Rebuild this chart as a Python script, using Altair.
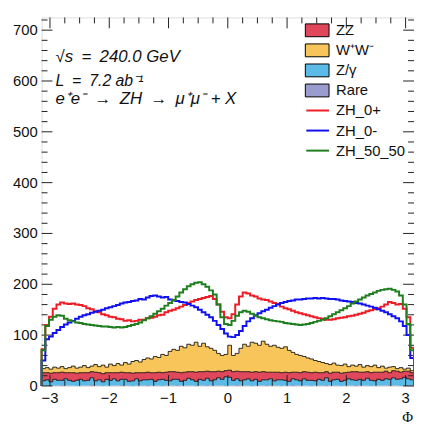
import numpy as np
import pandas as pd
import altair as alt

PI = float(np.pi)
NB = 100
edges = np.linspace(-PI, PI, NB + 1)

# ---------------- data (events per bin, 100 bins in [-pi, pi]) ----------------
zh_0p = [72, 120, 136, 152, 160, 164, 162, 161, 162, 160,
         159, 157, 153, 151, 147, 145, 141, 139, 136, 135,
         132, 131, 128, 129, 127, 128, 130, 130, 133, 134,
         136, 139, 140, 145, 148, 150, 153, 156, 159, 163,
         166, 169, 171, 173, 175, 177, 171, 160, 146, 135,
         133, 141, 160, 176, 184, 182, 178, 176, 172, 170,
         169, 166, 163, 161, 156, 153, 151, 148, 145, 143,
         141, 139, 137, 135, 133, 132, 130, 130, 131, 133,
         134, 135, 137, 138, 140, 142, 144, 147, 149, 151,
         153, 156, 160, 165, 163, 160, 161, 152, 135, 75]

zh_0m = [50, 92, 97, 104, 110, 116, 121, 125, 128, 132,
         136, 139, 141, 144, 146, 148, 150, 153, 155, 157,
         159, 162, 164, 165, 167, 168, 171, 170, 174, 177,
         178, 176, 174, 175, 170, 168, 167, 165, 164, 161,
         158, 155, 150, 145, 140, 135, 128, 120, 112, 103,
         97, 96, 100, 108, 118, 127, 133, 139, 143, 147,
         150, 154, 157, 160, 163, 165, 167, 168, 170, 170,
         171, 172, 172, 173, 172, 173, 172, 171, 171, 170,
         168, 167, 166, 165, 163, 162, 160, 158, 156, 154,
         151, 148, 145, 141, 137, 133, 127, 118, 100, 55]

zh_5050 = [70, 118, 130, 136, 139, 138, 132, 129, 127, 125,
           124, 122, 121, 120, 119, 118, 117, 117, 116, 115,
           116, 115, 116, 118, 120, 122, 125, 129, 133, 137,
           142, 147, 152, 158, 163, 169, 176, 184, 190, 196,
           200, 203, 204, 200, 195, 188, 180, 160, 135, 122,
           120, 128, 138, 145, 148, 146, 142, 138, 135, 133,
           131, 129, 128, 127, 126, 124, 123, 122, 121, 120,
           121, 122, 124, 126, 128, 130, 133, 137, 141, 145,
           149, 153, 157, 162, 166, 170, 174, 178, 181, 184,
           187, 189, 190, 191, 189, 186, 178, 160, 122, 70]

rare = [1, 1, 0, 1, 1, 2, 1, 1, 1, 0, 1, 1, 1, 2, 1, 1, 0, 1, 1, 1,
        1, 2, 1, 1, 0, 1, 1, 1, 2, 1, 1, 1, 0, 1, 1, 1, 2, 1, 1, 1,
        1, 0, 1, 1, 2, 1, 1, 1, 1, 0, 1, 1, 2, 1, 1, 1, 0, 1, 1, 1,
        2, 1, 1, 1, 0, 1, 1, 2, 1, 1, 1, 1, 0, 1, 1, 1, 2, 1, 1, 1,
        0, 1, 1, 1, 2, 1, 1, 1, 0, 1, 1, 1, 1, 2, 1, 1, 0, 1, 1, 1]

zgam = [9, 11, 8, 12, 10, 9, 13, 10, 8, 11, 12, 9, 10, 14, 9, 11, 8, 12, 10, 13,
        9, 11, 12, 8, 10, 13, 9, 11, 10, 12, 8, 11, 13, 10, 9, 12, 11, 8, 10, 14,
        11, 9, 12, 10, 13, 9, 11, 15, 12, 18, 16, 10, 12, 9, 11, 13, 10, 12, 8, 11,
        10, 13, 9, 11, 12, 10, 8, 12, 11, 9, 13, 10, 11, 9, 12, 10, 14, 8, 11, 12,
        9, 10, 13, 11, 9, 12, 10, 14, 11, 9, 12, 10, 13, 11, 15, 12, 14, 16, 13, 11]

zz = [16, 14, 17, 13, 15, 16, 12, 15, 17, 14, 13, 16, 15, 12, 17, 14, 16, 13, 15, 12,
      16, 14, 13, 17, 15, 12, 16, 14, 15, 13, 17, 15, 13, 16, 18, 15, 14, 17, 16, 13,
      16, 18, 15, 17, 14, 18, 16, 13, 15, 12, 14, 17, 15, 18, 16, 14, 17, 15, 18, 16,
      15, 13, 17, 15, 14, 16, 17, 13, 15, 16, 14, 16, 15, 17, 13, 15, 12, 16, 15, 14,
      16, 15, 13, 16, 17, 14, 16, 13, 15, 17, 14, 16, 15, 13, 14, 16, 13, 12, 15, 14]

ww = [8, 10, 8, 11, 9, 11, 8, 10, 13, 10, 11, 14, 10, 11, 15, 12, 17, 11, 17, 14,
      18, 14, 20, 17, 23, 24, 21, 26, 28, 27, 32, 29, 36, 33, 40, 44, 43, 52, 48, 54,
      52, 59, 50, 56, 48, 46, 42, 35, 32, 32, 49, 32, 35, 46, 54, 50, 59, 56, 53, 60,
      55, 51, 53, 49, 48, 50, 44, 39, 35, 34, 30, 28, 27, 23, 22, 20, 16, 17, 18, 14,
      15, 17, 11, 13, 11, 15, 10, 12, 12, 14, 9, 12, 6, 11, 8, 5, 9, 4, 6, 4]

bkg_names = ["ZZ", "W\u207aW\u207b", "Z/\u03b3", "Rare"]
bkg_colors = ["#e0475a", "#f8c55a", "#5cbbe6", "#9a9cd0"]
sig_names = ["ZH_0+", "ZH_0-", "ZH_50_50"]
sig_colors = ["#ee1c24", "#1010f0", "#1f7f1f"]

y_ticks_major = [0, 100, 200, 300, 400, 500, 600, 700]
y_labels = ["0", "100", "200", "300", "400", "500", "600", "700"]
x_ticks_major = [-3, -2, -1, 0, 1, 2, 3]
x_labels = ["\u22123", "\u22122", "\u22121", "0", "1", "2", "3"]
x_title = "\u03a6"

W, H = 377, 373
xs = alt.Scale(domain=[-PI, PI], nice=False, zero=False)
ys = alt.Scale(domain=[0, 725], nice=False, zero=False)
FONT = "Liberation Sans"


# ---------------- tables built from the arrays ----------------
def outline(vals, name):
    xv, yv = [edges[0]], [0.0]
    for i, v in enumerate(vals):
        xv += [edges[i], edges[i + 1]]
        yv += [v, v]
    xv.append(edges[-1]); yv.append(0.0)
    return pd.DataFrame({"x": xv, "y": yv, "o": range(len(xv)), "s": name})


def band(lo, hi, name):
    xv, lv, hv = [], [], []
    for i in range(NB):
        xv += [edges[i], edges[i + 1]]
        lv += [lo[i], lo[i]]
        hv += [hi[i], hi[i]]
    return pd.DataFrame({"x": xv, "lo": lv, "hi": hv, "s": name})


def px(field, ch):
    if ch == "x":
        return alt.X(field, scale=None, axis=None)
    return alt.Y(field, scale=None, axis=None)


def sx(field):
    return alt.X(field, scale=xs, axis=None)


def sy(field):
    return alt.Y(field, scale=ys, axis=None)


c0 = np.zeros(NB)
c1 = c0 + np.array(rare)
c2 = c1 + np.array(zgam)
c3 = c2 + np.array(zz)
c4 = c3 + np.array(ww)

bands = [(c3, c4, "WW", bkg_colors[1]), (c0, c1, "Rare", bkg_colors[3]),
         (c1, c2, "Z/\u03b3", bkg_colors[2]), (c2, c3, "ZZ", bkg_colors[0])]

layers = []

# stacked background fills
for lo, hi, name, col in bands:
    layers.append(alt.Chart(band(lo, hi, name)).mark_area(
        color=col, opacity=1, interpolate="linear").encode(
        x=sx("x:Q"), y=sy("hi:Q"), y2=alt.Y2("lo:Q")))

# black outlines of the stack layers
for cum, name in [(c2, "zg"), (c3, "zz"), (c4, "ww")]:
    layers.append(alt.Chart(outline(list(cum), name)).mark_line(
        color="black", strokeWidth=0.8).encode(
        x=sx("x:Q"), y=sy("y:Q"), order="o:Q"))

# inward ticks on all four sides
ymin = [v for v in range(0, 721, 20) if v % 100]
xmin = [v / 4 for v in range(-12, 13) if v % 4]
yt = pd.DataFrame({"t": y_ticks_major + ymin,
                   "L": [11] * len(y_ticks_major) + [6] * len(ymin)})
xt = pd.DataFrame({"t": x_ticks_major + xmin,
                   "L": [11] * len(x_ticks_major) + [6] * len(xmin)})
yt["rx"] = W - yt["L"]
xt["by"] = H - xt["L"]
tick_style = dict(color="#222", strokeWidth=1)
layers.append(alt.Chart(yt).mark_rule(**tick_style).encode(
    y=sy("t:Q"), x=px("L:Q", "x"), x2=alt.value(0)))
layers.append(alt.Chart(yt).mark_rule(**tick_style).encode(
    y=sy("t:Q"), x=px("rx:Q", "x"), x2=alt.value(W)))
layers.append(alt.Chart(xt).mark_rule(**tick_style).encode(
    x=sx("t:Q"), y=px("L:Q", "y"), y2=alt.value(0)))
layers.append(alt.Chart(xt).mark_rule(**tick_style).encode(
    x=sx("t:Q"), y=px("by:Q", "y"), y2=alt.value(H)))

# axis labels and title
ylab = pd.DataFrame({"v": y_ticks_major, "lab": y_labels})
xlab = pd.DataFrame({"v": x_ticks_major, "lab": x_labels})
layers.append(alt.Chart(ylab).mark_text(
    align="right", baseline="middle", font=FONT, fontSize=15, color="#111",
    dx=-4).encode(y=sy("v:Q"), x=alt.value(0), text="lab:N"))
layers.append(alt.Chart(xlab).mark_text(
    align="center", baseline="top", font=FONT, fontSize=15, color="#111",
    dy=5).encode(x=sx("v:Q"), y=alt.value(H), text="lab:N"))
layers.append(alt.Chart(pd.DataFrame({"t": [x_title]})).mark_text(
    align="right", baseline="alphabetic", font="Liberation Serif", fontSize=15,
    color="#111").encode(x=alt.value(W - 1), y=alt.value(H + 37), text="t:N"))

# signal lines
for vals, name, col in zip([zh_0p, zh_0m, zh_5050], sig_names, sig_colors):
    layers.append(alt.Chart(outline(vals, name)).mark_line(
        color=col, strokeWidth=2, strokeJoin="miter").encode(
        x=sx("x:Q"), y=sy("y:Q"), order="o:Q"))

# legend
leg_y0, leg_dy = 13, 20.3
bx = pd.DataFrame({"name": bkg_names, "col": bkg_colors})
bx["cy"] = [leg_y0 + leg_dy * i for i in range(len(bx))]
bx["y0"] = bx["cy"] - 6.5
bx["y1"] = bx["cy"] + 6.5
ln = pd.DataFrame({"name": sig_names, "col": sig_colors})
ln["cy"] = [leg_y0 + leg_dy * (i + 4) for i in range(len(ln))]
layers.append(alt.Chart(bx).mark_rect(stroke="black", strokeWidth=1).encode(
    x=alt.value(267), x2=alt.value(291),
    y=px("y0:Q", "y"), y2=alt.Y2("y1:Q"),
    fill=alt.Fill("col:N", scale=None, legend=None)))
layers.append(alt.Chart(ln).mark_rule(strokeWidth=2).encode(
    x=alt.value(268), x2=alt.value(291),
    y=px("cy:Q", "y"), color=alt.Color("col:N", scale=None, legend=None)))
legtxt = pd.concat([bx[["name", "cy"]], ln[["name", "cy"]]])
layers.append(alt.Chart(legtxt).mark_text(
    align="left", baseline="middle", font=FONT, fontSize=15,
    color="#111").encode(x=alt.value(298), y=px("cy:Q", "y"), text="name:N"))

# annotations
SP = "\u2002"
ann_text = ["\u221as" + SP + "=" + SP + "240.0 GeV",
            "L" + SP + "=" + SP + "7.2 ab\u207b\u00b9",
            "e\u207ae\u207b" + SP + "\u2192" + SP + "ZH" + SP + "\u2192" + SP
            + "\u03bc\u207a\u03bc\u207b + X"]
ann_y = [40, 64, 83]
ann_fs = [17, 16, 17]
for t, yy, fs in zip(ann_text, ann_y, ann_fs):
    layers.append(alt.Chart(pd.DataFrame({"t": [t]})).mark_text(
        align="left", baseline="middle", font=FONT,
        fontStyle="italic", fontSize=fs, color="#111").encode(
        x=alt.value(14), y=alt.value(yy), text="t:N"))

chart = alt.layer(*layers).properties(
    width=W, height=H,
    autosize=alt.AutoSizeParams(type="none"),
    padding={"left": 34, "top": 7, "right": 0, "bottom": 38},
).configure_view(stroke="#222", strokeWidth=1.2).configure(background="white")

chart.save("out.html", embed_options={"renderer": "svg", "actions": False})
